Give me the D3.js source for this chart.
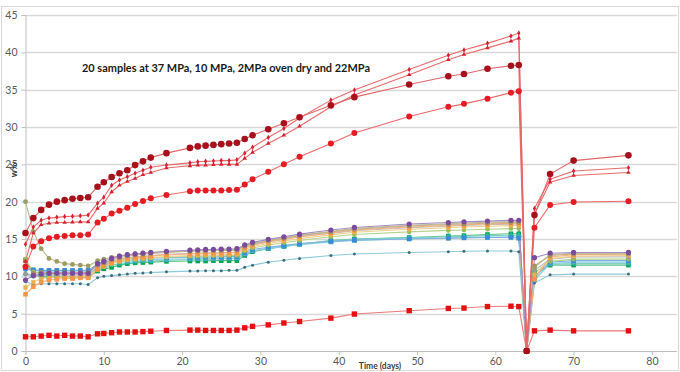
<!DOCTYPE html>
<html><head><meta charset="utf-8">
<script src="https://cdn.jsdelivr.net/npm/d3@7"></script>
<style>html,body{margin:0;padding:0;background:#fff;}svg{display:block;}</style>
</head><body>
<svg id="c" width="680" height="372"></svg>
<script>
// ---------- DATA ----------
const days = [0,1,2,3,4,5,6,7,8,9.2,10,11,12,13,14,15,16,18,21,22,23,24,25,26,27,28,29,31,33,35,39,42,49,54,56,59,62,63,64,65,67,70,77];
const xTicks = [0,10,20,30,40,50,60,70,80];
const yTicks = [0,5,10,15,20,25,30,35,40,45];
const title = "20 samples at 37 MPa, 10 MPa, 2MPa oven dry and 22MPa";
const xLabel = "Time (days)";
const yLabel = "w%";

const purple = [9.5,10.1,10.3,10.4,10.4,10.4,10.4,10.4,10.4, 11.7,12.0,12.4,12.7,12.9,13.0,13.1,13.2,13.35, 13.5,13.55,13.6,13.6,13.65,13.65,13.7, 14.2,14.55, 14.95,15.3,15.65, 16.2,16.55, 17.0,17.2,17.3,17.4, 17.5,17.5, 0, 12.5,13.1,13.2,13.2];
const olive = [20.0,16.0,13.7,12.4,12.0,11.7,11.6,11.5,11.4, 12.1,12.3,12.55,12.75,12.9,13.0,13.1,13.15,13.3, 13.4,13.45,13.5,13.5,13.55,13.55,13.6, 14.1,14.4, 14.8,15.2,15.5, 16.0,16.4, 16.85,17.05,17.15,17.25, 17.3,17.3, 0, 11.2,12.9,13.1,13.1];
const taupe = [12.0,10.4,10.5,10.5,10.5,10.5,10.5,10.5,10.5, 11.5,11.8,12.2,12.5,12.7,12.85,12.95,13.05,13.2, 13.35,13.4,13.4,13.45,13.45,13.5,13.5, 14.0,14.35, 14.75,15.1,15.45, 15.95,16.3, 16.75,16.95,17.0,17.1, 17.2,17.2, 0, 11.4,12.8,13.0,13.0];
const orange = [7.6,8.6,9.2,9.5,9.6,9.7,9.7,9.8,9.8, 10.9,11.4,11.9,12.2,12.4,12.5,12.6,12.7,12.85, 13.0,13.05,13.1,13.1,13.1,13.15,13.2, 13.8,14.2, 14.6,15.0,15.3, 15.8,16.2, 16.6,16.8,16.9,17.0, 17.1,17.1, 0, 9.6,12.6,12.9,13.0];
const gold = [8.5,9.2,9.7,9.8,9.9,9.9,9.9,10.0,10.0, 11.0,11.3,11.7,12.0,12.2,12.3,12.4,12.5,12.65, 12.8,12.85,12.9,12.9,12.9,12.95,13.0, 13.6,14.0, 14.4,14.75,15.05, 15.55,15.9, 16.3,16.5,16.6,16.7, 16.8,16.8, 0, 10.2,12.4,12.7,12.8];
const gray = [10.3,10.0,10.1,10.2,10.2,10.2,10.2,10.2,10.2, 11.3,11.6,12.0,12.3,12.5,12.6,12.7,12.8,12.95, 13.1,13.1,13.15,13.15,13.2,13.2,13.25, 13.8,14.2, 14.6,14.95,15.3, 15.75,16.1, 16.5,16.7,16.8,16.9, 17.0,17.0, 0, 10.8,12.3,12.6,12.6];
const lightGreen = [12.3,10.6,10.5,10.4,10.4,10.4,10.3,10.3,10.3, 11.2,11.5,11.8,12.0,12.2,12.3,12.4,12.45,12.55, 12.65,12.7,12.7,12.75,12.75,12.8,12.8, 13.4,13.8, 14.2,14.5,14.8, 15.3,15.6, 15.95,16.15,16.2,16.3, 16.4,16.4, 0, 10.4,12.0,12.3,12.3];
const blue = [11.0,10.8,10.8,10.8,10.8,10.8,10.8,10.8,10.8, 11.6,11.8,12.0,12.15,12.25,12.35,12.4,12.45,12.5, 12.55,12.6,12.6,12.6,12.6,12.65,12.65, 13.2,13.6, 13.9,14.15,14.4, 14.7,14.85, 15.0,15.1,15.15,15.2, 15.2,15.1, 0, 9.9,11.9,12.1,12.1];
const cyan = [11.2,10.9,10.7,10.6,10.6,10.6,10.6,10.6,10.6, 11.4,11.6,11.8,11.95,12.05,12.15,12.2,12.25,12.3, 12.35,12.4,12.4,12.4,12.4,12.45,12.45, 13.0,13.4, 13.75,14.0,14.25, 14.6,14.8, 15.05,15.15,15.2,15.25, 15.3,15.2, 0, 9.5,11.7,11.9,11.9];
const tealGreen = [10.4,10.1,10.2,10.2,10.2,10.2,10.2,10.2,10.2, 11.0,11.3,11.5,11.7,11.85,11.95,12.0,12.05,12.15, 12.25,12.3,12.3,12.3,12.35,12.35,12.4, 13.0,13.4, 13.75,14.05,14.3, 14.75,14.95, 15.15,15.3,15.35,15.45, 15.5,15.5, 0, 10.0,11.6,11.7,11.7];
const green = [12.2,10.2,10.0,9.9,9.9,9.9,9.9,9.9,9.9, 10.7,11.0,11.2,11.5,11.7,11.8,11.85,11.9,12.0, 12.05,12.05,12.05,12.1,12.1,12.1,12.1, 12.8,13.3, 13.7,14.0,14.3, 14.8,15.0, 15.2,15.4,15.45,15.6, 15.7,15.7, 0, 10.6,11.5,11.5,11.5];
const teal = [9.3,8.9,9.0,9.0,9.0,9.0,9.0,9.0,8.9, 9.8,10.0,10.1,10.2,10.3,10.4,10.45,10.5,10.6, 10.7,10.7,10.75,10.75,10.75,10.8,10.8, 11.2,11.5, 11.9,12.15,12.4, 12.8,13.0, 13.2,13.3,13.35,13.4, 13.4,13.3, 0, 9.1,10.2,10.3,10.3];

const redSquares = [1.9,1.9,2.0,2.1,2.0,2.1,2.0,2.0,1.9, 2.3,2.35,2.45,2.55,2.55,2.55,2.6,2.65,2.75, 2.8,2.8,2.75,2.75,2.75,2.75,2.8, 3.1,3.3, 3.5,3.75,3.95, 4.4,4.95, 5.4,5.7,5.75,5.95, 6.0,5.95, 0, 2.7,2.8,2.7,2.7];
const brightRed = [11.3,14.0,14.7,15.1,15.3,15.4,15.5,15.5,15.6, 17.2,17.7,18.4,18.8,19.2,19.7,20.1,20.45,20.9, 21.4,21.5,21.5,21.5,21.5,21.55,21.6, 22.3,23.0, 24.0,25.0,26.0, 27.8,29.2, 31.4,32.7,33.1,33.8, 34.6,34.8, 0, 16.5,19.55,19.95,20.05];
const smallRedB = [12.0,15.8,16.9,17.1,17.2,17.2,17.25,17.3,17.3, 19.1,19.8,21.3,22.2,22.7,23.1,23.6,23.9,24.5, 24.8,24.9,24.9,24.95,25.0,25.0,25.0, 25.8,26.6, 27.8,28.9,30.1, 32.7,34.3, 37.0,39.0,39.7,40.6, 41.5,41.9, 0, 18.3,22.6,23.5,23.9];
const smallRedA = [14.3,16.6,17.5,17.8,17.9,18.0,18.05,18.1,18.2, 19.8,20.6,22.2,22.9,23.35,23.8,24.2,24.6,24.9, 25.2,25.35,25.4,25.45,25.5,25.5,25.6, 26.5,27.3, 28.6,29.8,31.2, 33.6,34.95, 37.7,39.6,40.3,41.2, 42.2,42.6, 0, 19.1,23.0,24.1,24.55];
const darkRed = [15.8,17.8,18.9,19.6,20.0,20.2,20.4,20.5,20.6, 22.0,22.6,23.3,23.8,24.2,24.9,25.4,25.9,26.5, 27.2,27.4,27.5,27.6,27.7,27.8,27.9, 28.4,28.9, 29.7,30.5,31.3, 32.9,34.0, 35.7,36.8,37.1,37.8, 38.2,38.3, 0, 18.2,23.7,25.5,26.2];

// series list (draw order) : values, line colour, marker colour, marker type, size
const series = [
  {v: teal,       line:"#8fc9dc", fill:"#3b6f80", sym:"circle",   s:1.5},
  {v: green,      line:"#59c28a", fill:"#00a550", sym:"square",   s:4.6},
  {v: tealGreen,  line:"#7fd0c0", fill:"#2fb59c", sym:"triangle", s:2.8},
  {v: cyan,       line:"#8ccfe0", fill:"#4bacc6", sym:"square",   s:4.6},
  {v: blue,       line:"#7fb2e0", fill:"#3a8ad4", sym:"square",   s:4.6},
  {v: lightGreen, line:"#b6d48c", fill:"#9bbb59", sym:"circle",   s:2.3},
  {v: gray,       line:"#bdbdbd", fill:"#9a9a9a", sym:"circle",   s:2.3},
  {v: gold,       line:"#f2cf8a", fill:"#e6b050", sym:"square",   s:4.3},
  {v: orange,     line:"#f8b27a", fill:"#f79646", sym:"square",   s:4.6},
  {v: taupe,      line:"#c8aa8c", fill:"#a88664", sym:"circle",   s:2.4},
  {v: olive,      line:"#b9b98a", fill:"#9b9b62", sym:"circle",   s:2.4},
  {v: purple,     line:"#a58cc4", fill:"#7a4b9c", sym:"circle",   s:2.6},
  {v: redSquares, line:"#ec7a7a", fill:"#e41010", sym:"square",   s:5.4},
  {v: brightRed,  line:"#ec6a6a", fill:"#e51c23", sym:"circle",   s:3.0},
  {v: smallRedB,  line:"#ea6a6a", fill:"#d42030", sym:"triangle", s:2.0},
  {v: smallRedA,  line:"#ea6a6a", fill:"#d42030", sym:"diamond",  s:2.0},
  {v: darkRed,    line:"#e06a6a", fill:"#a8101c", sym:"circle",   s:3.3}
];

// ---------- CHART ----------
const svg = d3.select("#c");
const W = 680, H = 372;
const x = d3.scaleLinear().domain([0, 83]).range([25.5, 675.4]);
const y = d3.scaleLinear().domain([0, 45]).range([351, 15]);
const font = "Lato, 'Open Sans', 'Liberation Sans', sans-serif";

svg.append("rect").attr("x",1.5).attr("y",6.5).attr("width",W-3).attr("height",H-8)
  .attr("fill","#fff").attr("stroke","#d9d9d9");

// horizontal gridlines
svg.append("g").selectAll("line").data(yTicks.filter(d=>d>0)).join("line")
  .attr("x1", x(0)).attr("x2", 677)
  .attr("y1", d=>Math.round(y(d))+0.5).attr("y2", d=>Math.round(y(d))+0.5)
  .attr("stroke","#d9d9d9").attr("stroke-width",1.3);

// y axis
const yAxis = svg.append("g").attr("transform",`translate(${x(0)},0)`)
  .call(d3.axisLeft(y).tickValues(yTicks).tickSize(4).tickPadding(4));
yAxis.select(".domain").attr("stroke","#bfbfbf");
yAxis.selectAll(".tick line").attr("stroke","#bfbfbf");
yAxis.selectAll("text").attr("fill","#595959").style("font-family",font).style("font-size","10.5px");

// x axis
const xAxis = svg.append("g").attr("transform",`translate(0,${y(0)})`)
  .call(d3.axisBottom(x).tickValues(xTicks).tickSize(4).tickPadding(3));
xAxis.select(".domain").attr("stroke","#bfbfbf").attr("d", `M${x(0)},0.5H677`);
xAxis.selectAll(".tick line").attr("stroke","#bfbfbf");
xAxis.selectAll("text").attr("fill","#595959").style("font-family",font).style("font-size","10.5px");

// axis titles
svg.append("text").attr("x", 380).attr("y", 369).attr("text-anchor","middle")
  .style("font-family",font).style("font-size","8.5px").style("font-weight","bold")
  .attr("fill","#404040").text(xLabel);
svg.append("text").attr("transform","translate(17,170) rotate(-90)").attr("text-anchor","middle")
  .style("font-family",font).style("font-size","9px").style("font-weight","bold")
  .attr("fill","#404040").text(yLabel);

// title
svg.append("text").attr("x", 82).attr("y", 72)
  .style("font-family",font).style("font-size","11px").style("font-weight","bold")
  .attr("fill","#1a1a1a").attr("textLength",288).attr("lengthAdjust","spacingAndGlyphs")
  .text(title);

// series
const line = d3.line().x((d,i)=>x(days[i])).y(d=>y(d));
const symMap = {circle:d3.symbolCircle, square:d3.symbolSquare, triangle:d3.symbolTriangle, diamond:d3.symbolDiamond};
const gS = svg.append("g");
series.forEach(s => {
  gS.append("path").datum(s.v).attr("d", line).attr("fill","none")
    .attr("stroke", s.line).attr("stroke-width", 1.1);
});
series.forEach(s => {
  const area = s.sym==="circle" ? Math.PI*s.s*s.s : (s.sym==="square" ? s.s*s.s : s.s*s.s*2.2);
  const sym = d3.symbol().type(symMap[s.sym]).size(area);
  gS.append("g").selectAll("path").data(s.v).join("path")
    .attr("transform",(d,i)=>`translate(${x(days[i])},${y(d)})`)
    .attr("d", sym).attr("fill", s.fill);
});
</script>
</body></html>
